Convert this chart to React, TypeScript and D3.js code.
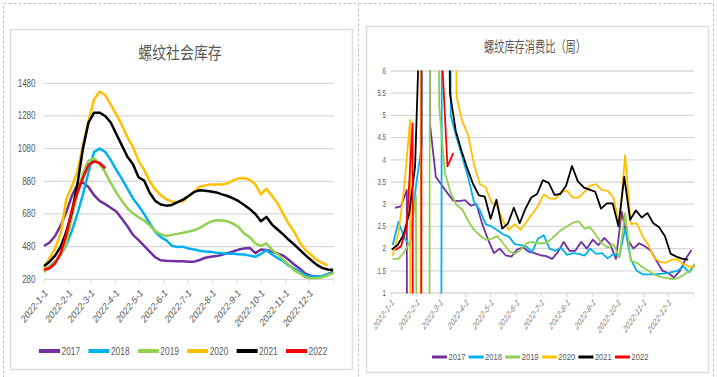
import React from 'react';
import * as d3 from 'd3';

// ---------- data ----------
const years = ['2017', '2018', '2019', '2020', '2021', '2022'];
const monthLabels = ['2022-1-1', '2022-2-1', '2022-3-1', '2022-4-1', '2022-5-1', '2022-6-1', '2022-7-1', '2022-8-1', '2022-9-1', '2022-10-1', '2022-11-1', '2022-12-1'];
const axisStart = '2022-1-1';
const axisEnd = '2023-1-1';
const stockTicks = [280, 480, 680, 880, 1080, 1280, 1480];
const ratioTicks = [1, 1.5, 2, 2.5, 3, 3.5, 4, 4.5, 5, 5.5, 6];

const stockTitle = '螺纹社会库存';
const ratioTitle = '螺纹库存消费比（周）';

// weekly social inventory (10k t), weeks mapped onto 2022 calendar
const stockStartDate = '2022-1-1';
const stock2017 = [484, 505, 545, 610, 690, 790, 860, 872, 845, 795, 760, 740, 718, 695, 650, 605, 552, 520, 485, 449, 415, 396, 393, 392, 391, 390, 387, 388, 398, 412, 418, 422, 430, 440, 450, 462, 468, 472, 440, 462, 460, 450, 438, 425, 400, 370, 345, 315, 302, 296, 298, 312, 327];
const stock2018 = [340, 358, 388, 430, 490, 575, 680, 800, 935, 1060, 1080, 1060, 1010, 950, 895, 835, 775, 730, 680, 623, 570, 538, 518, 485, 478, 480, 468, 462, 455, 450, 448, 442, 440, 437, 436, 434, 432, 425, 418, 435, 458, 432, 410, 392, 365, 345, 325, 305, 298, 296, 300, 310, 322];
const stock2019 = [325, 355, 390, 430, 500, 660, 805, 930, 1005, 1020, 985, 935, 870, 810, 760, 715, 684, 660, 640, 610, 575, 555, 545, 552, 558, 565, 572, 580, 595, 615, 633, 642, 640, 635, 620, 600, 560, 538, 500, 485, 500, 460, 435, 400, 370, 335, 315, 292, 287, 287, 292, 305, 318];
const stock2020 = [345, 410, 470, 560, 770, 850, 940, 1100, 1250, 1380, 1430, 1408, 1350, 1290, 1225, 1150, 1090, 1005, 950, 880, 830, 795, 770, 755, 752, 758, 790, 815, 847, 855, 860, 861, 861, 868, 885, 898, 900, 888, 862, 800, 835, 790, 745, 680, 620, 570, 505, 460, 430, 400, 380, 365];
const stock2021 = [362, 388, 425, 480, 570, 690, 860, 1080, 1240, 1300, 1300, 1280, 1240, 1170, 1100, 1030, 985, 905, 885, 810, 760, 738, 731, 735, 752, 768, 790, 815, 825, 822, 818, 812, 800, 790, 775, 758, 735, 710, 680, 635, 662, 615, 585, 555, 522, 492, 460, 428, 398, 370, 350, 340, 337];
const stock2022 = [338, 348, 378, 440, 550, 704, 810, 900, 980, 1002, 992, 960];

// weekly inventory / consumption ratio; values far outside 1–6 run off the plot, null = gap
const ratioStartDates = ['2022-1-6', '2022-1-3', '2022-1-3', '2022-1-3', '2022-1-2', '2022-1-6'];
const ratio2017 = [2.92, 2.95, 3.32, -100, null, 100, 4.8, 3.62, 3.43, 3.25, 3.08, 3.07, 3.09, 2.97, 3.0, 2.55, 2.2, 1.9, 2.0, 1.85, 1.82, 1.98, 2.03, 1.93, 1.9, 1.85, 1.83, 1.77, 1.92, 2.15, 1.95, 1.95, 2.15, 2.0, 2.2, 2.08, 2.24, 2.1, 1.77, 2.83, 2.2, 2.0, 2.12, 2.05, 1.95, 1.72, 1.5, 1.45, 1.35, 1.5, 1.77, 1.97];
const ratio2018 = [2.08, 2.6, 2.25, 2.05, 3.4, 4.33, 60, null, -30, 50, 5.0, 4.5, 4.05, 3.6, 3.05, 2.87, 2.55, 2.5, 2.42, 2.32, 2.27, 2.1, 2.08, 2.05, 1.92, 2.22, 2.3, 2.0, 1.95, 2.02, 1.86, 1.9, 1.88, 1.84, 2.0, 1.88, 1.9, 1.78, 1.88, 1.82, 2.45, 1.75, 1.5, 1.42, 1.42, 1.42, 1.43, 1.44, 1.47, 1.5, 1.6, 1.47, 1.63];
const ratio2019 = [1.77, 1.77, 1.92, 2.16, 3.2, -30, -30, 60, 5.2, 3.7, 3.25, 2.98, 2.88, 2.62, 2.42, 2.3, 2.2, 2.22, 2.28, 2.12, 1.95, 1.88, 1.97, 2.12, 2.15, 2.12, 2.12, 2.18, 2.3, 2.42, 2.5, 2.58, 2.62, 2.45, 2.48, 2.3, 2.12, 2.02, 2.1, 1.8, 2.8, 1.72, 1.68, 1.58, 1.5, 1.42, 1.37, 1.34, 1.31, 1.33, 1.4, 1.5, 1.66];
const ratio2020 = [1.84, 2.35, 3.4, 4.9, -100, 20, 20, 20, 20, 20, 20, 5.42, 4.86, 4.55, 3.9, 3.45, 3.38, 3.05, 2.95, 2.62, 2.42, 2.55, 2.42, 2.6, 2.78, 2.96, 3.22, 3.13, 3.12, 3.28, 3.3, 3.15, 3.15, 3.28, 3.42, 3.45, 3.32, 3.3, 3.15, 2.55, 4.1, 2.55, 2.57, 2.28, 2.08, 1.8, 1.7, 1.68, 1.75, 1.76, 1.65, 1.6, 1.58];
const ratio2021 = [1.98, 2.08, 2.3, 2.8, 3.85, 8, 30, 30, 30, 20, 5.5, 4.65, 4.2, 3.8, 3.45, 3.2, 3.17, 2.67, 3.1, 2.45, 2.57, 2.92, 2.57, 2.9, 3.15, 3.23, 3.54, 3.48, 3.21, 3.23, 3.42, 3.86, 3.52, 3.38, 3.33, 3.28, 2.9, 3.02, 3.02, 2.5, 3.62, 2.65, 2.86, 2.7, 2.8, 2.57, 2.48, 2.28, 1.88, 1.82, 1.77, 1.75];
const ratio2022 = [1.97, 2.05, 2.5, 4.82, -100, 100, 100, 100, 6.5, 3.85, 4.15];

const stockValues = [stock2017, stock2018, stock2019, stock2020, stock2021, stock2022];
const ratioValues = [ratio2017, ratio2018, ratio2019, ratio2020, ratio2021, ratio2022];

// ---------- styles ----------
const seriesColors = ['#7030A0', '#00B0F0', '#92D050', '#FFC000', '#000000', '#FF0000'];
const GRID = '#d9d9d9';
const TEXT = '#595959';
const FONT = "'Liberation Sans', Arial, sans-serif";
const CJK = "'Noto Sans CJK SC', 'Noto Sans CJK JP', sans-serif";

type Pt = { date: Date; v: number | null };

const parseDay = (s: string) => {
  const [y, m, d] = s.split('-').map(Number);
  return new Date(y, m - 1, d);
};
const weekly = (start: string, values: (number | null)[]): Pt[] =>
  values.map((v, i) => ({ date: d3.timeDay.offset(parseDay(start), 7 * i), v }));

function Label(props: any) {
  const { x, y, sx = 1, rot = 0, anchor = 'start', size, fill = TEXT, italic = false, family = FONT, children } = props;
  return (
    <text
      transform={`translate(${x},${y}) scale(${sx},1)${rot ? ` rotate(${rot})` : ''}`}
      textAnchor={anchor}
      dominantBaseline="central"
      fontSize={size}
      fill={fill}
      fontFamily={family}
      fontStyle={italic ? 'italic' : 'normal'}
    >
      {children}
    </text>
  );
}

type Cfg = {
  id: string;
  title: string; titleX: number; titleY: number; titleSize: number; titleSx: number;
  x0: number; x1: number; yTop: number; yBot: number; yDomain: [number, number];
  yTicks: number[]; yLabelX: number; yLabelSize: number; yLabelSx: number;
  xLabelDx: number; xLabelY: number; xLabelSize: number; xLabelSx: number; xLabelFill: string; xLabelItalic: boolean;
  lineWidth: number; series: Pt[][]; clip: boolean; gridWidth: number;
  legendX: number; legendStep: number; legendY: number; legendLen: number; legendWidth: number; legendSize: number; legendSx: number;
};

function Chart({ c }: { c: Cfg }) {
  const x = d3.scaleTime().domain([parseDay(axisStart), parseDay(axisEnd)]).range([c.x0, c.x1]);
  const y = d3.scaleLinear().domain(c.yDomain).range([c.yBot, c.yTop]);
  const line = d3
    .line<Pt>()
    .defined((d) => d.v != null)
    .x((d) => x(d.date))
    .y((d) => y(d.v as number));
  const tickDates = [...monthLabels, axisEnd].map(parseDay);
  return (
    <g>
      {c.clip && (
        <defs>
          <clipPath id={`${c.id}-clip`}>
            <rect x={c.x0 - 2} y={c.yTop - 0.5} width={c.x1 - c.x0 + 3} height={c.yBot - c.yTop + 1} />
          </clipPath>
        </defs>
      )}
      <Label x={c.titleX} y={c.titleY} sx={c.titleSx} anchor="middle" size={c.titleSize} family={CJK}>
        {c.title}
      </Label>
      {c.yTicks.map((t) => (
        <line key={t} x1={c.x0} x2={c.x1} y1={y(t)} y2={y(t)} stroke={GRID} strokeWidth={c.gridWidth} />
      ))}
      {tickDates.map((d, i) => (
        <line key={i} x1={x(d)} x2={x(d)} y1={c.yBot} y2={c.yBot + 4} stroke={GRID} strokeWidth={1} />
      ))}
      {c.yTicks.map((t) => (
        <Label key={t} x={c.yLabelX} y={y(t)} sx={c.yLabelSx} anchor="end" size={c.yLabelSize}>
          {String(t)}
        </Label>
      ))}
      {monthLabels.map((m) => (
        <Label
          key={m}
          x={x(parseDay(m)) + c.xLabelDx}
          y={c.xLabelY}
          sx={c.xLabelSx}
          rot={-45}
          anchor="end"
          size={c.xLabelSize}
          fill={c.xLabelFill}
          italic={c.xLabelItalic}
        >
          {m}
        </Label>
      ))}
      <g clipPath={c.clip ? `url(#${c.id}-clip)` : undefined}>
        {c.series.map((s, i) => (
          <path
            key={i}
            d={line(s) || ''}
            fill="none"
            stroke={seriesColors[i]}
            strokeWidth={c.lineWidth}
            strokeLinejoin="round"
          />
        ))}
      </g>
      {years.map((yr, i) => {
        const lx = c.legendX + i * c.legendStep;
        return (
          <g key={yr}>
            <line x1={lx} x2={lx + c.legendLen} y1={c.legendY} y2={c.legendY} stroke={seriesColors[i]} strokeWidth={c.legendWidth} />
            <Label x={lx + c.legendLen + 1.5} y={c.legendY} sx={c.legendSx} size={c.legendSize}>
              {yr}
            </Label>
          </g>
        );
      })}
    </g>
  );
}

export default function App() {
  const stockSeries = stockValues.map((v) => weekly(stockStartDate, v));
  const ratioSeries = ratioValues.map((v, i) => weekly(ratioStartDates[i], v));

  const left: Cfg = {
    id: 'stock',
    title: stockTitle, titleX: 180, titleY: 51.5, titleSize: 17, titleSx: 0.82,
    x0: 44, x1: 334, yTop: 83.3, yBot: 279.3, yDomain: [280, 1480],
    yTicks: stockTicks, yLabelX: 35.5, yLabelSize: 10, yLabelSx: 0.8,
    xLabelDx: 2, xLabelY: 291, xLabelSize: 10.5, xLabelSx: 0.8, xLabelFill: TEXT, xLabelItalic: false,
    lineWidth: 2.5, series: stockSeries, clip: false, gridWidth: 1.3,
    legendX: 39, legendStep: 49.4, legendY: 351, legendLen: 21, legendWidth: 4, legendSize: 10.5, legendSx: 0.8,
  };
  const right: Cfg = {
    id: 'ratio',
    title: ratioTitle, titleX: 535, titleY: 46, titleSize: 15, titleSx: 0.68,
    x0: 391, x1: 694, yTop: 71, yBot: 293, yDomain: [1, 6],
    yTicks: ratioTicks, yLabelX: 386, yLabelSize: 8.5, yLabelSx: 0.72,
    xLabelDx: 2, xLabelY: 301, xLabelSize: 9.5, xLabelSx: 0.7, xLabelFill: '#7f7f7f', xLabelItalic: true,
    lineWidth: 1.8, series: ratioSeries, clip: true, gridWidth: 1.3,
    legendX: 432, legendStep: 36.6, legendY: 357, legendLen: 15, legendWidth: 3, legendSize: 9.5, legendSx: 0.8,
  };

  return (
    <svg width={717} height={377} style={{ position: 'absolute', left: 0, top: 0 }}>
      <rect x={0} y={0} width={717} height={377} fill="#ffffff" />
      <rect x={3.5} y={3.5} width={710} height={380} fill="none" stroke="#c0c0c0" strokeDasharray="3,2" />
      <line x1={358.5} x2={358.5} y1={3.5} y2={377} stroke="#c0c0c0" strokeDasharray="3,2" />
      <rect x={10.5} y={29.5} width={342} height={340} fill="#fff" stroke="#dedede" strokeWidth={1.5} />
      <rect x={366.5} y={26.5} width={342} height={346} fill="#fff" stroke="#dedede" strokeWidth={1.5} />
      <Chart c={left} />
      <Chart c={right} />
    </svg>
  );
}
